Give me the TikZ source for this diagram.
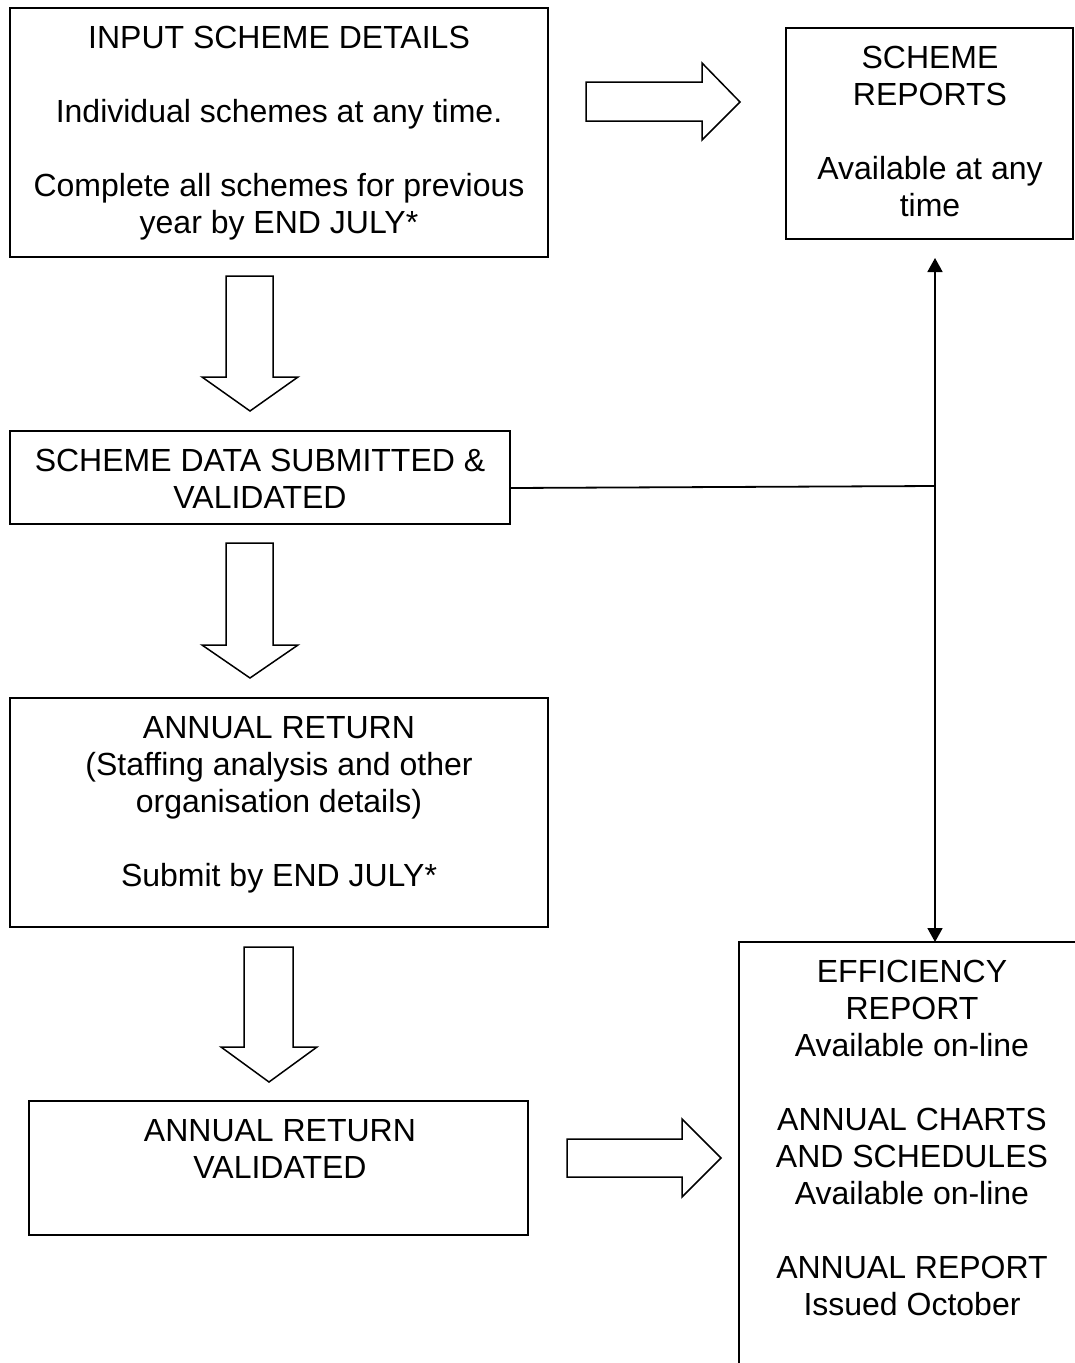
\documentclass[tikz,border=0pt]{standalone}
\usepackage{fontspec}
\setmainfont{Liberation Sans}
\usetikzlibrary{arrows.meta}
\begin{document}
\begin{tikzpicture}[x=1pt,y=-1pt,
  box/.style={draw,line width=1.8pt,rectangle,inner sep=0pt,outer sep=0pt},
  txt/.style={anchor=north,align=center,inner sep=0pt,font=\fontsize{32}{37}\selectfont},
  blockarrow/.style={draw,line width=1.5pt,line join=miter,fill=white},
  conn/.style={line width=1.8pt},
  tipboth/.style={{Triangle[length=14pt,width=15pt]}-{Triangle[length=14pt,width=15pt]}}
]
\useasboundingbox (0,0) rectangle (1075,1363);
\fill[white] (0,0) rectangle (1075,1363);

% boxes
\node[box,minimum width=538pt,minimum height=249pt] (b1) at (279,132.5) {};
\node[box,minimum width=287pt,minimum height=211pt] (b2) at (929.5,133.5) {};
\node[box,minimum width=500pt,minimum height=93pt] (b3) at (260,477.5) {};
\node[box,minimum width=538pt,minimum height=229pt] (b4) at (279,812.5) {};
\node[box,minimum width=499pt,minimum height=134pt] (b5) at (278.5,1168) {};
\coordinate (b6nw) at (739,942);
\coordinate (b6ne) at (1076,942);
\coordinate (b6sw) at (739,1364);
\draw[line width=1.8pt] (b6ne) -- (b6nw) -- (b6sw);

% texts
\node[txt] (t1) at (279,22.6) {\strut INPUT SCHEME DETAILS\\\strut\\Individual schemes at any time.\\\strut\\Complete all schemes for previous\\year by END JULY*};
\node[txt] (t2) at (930,42.6) {\strut SCHEME\\REPORTS\\\strut\\Available at any\\time};
\node[txt] (t3) at (260,445.6) {\strut SCHEME DATA SUBMITTED \&\\VALIDATED};
\node[txt] (t4) at (279,712.6) {\strut ANNUAL RETURN\\(Staffing analysis and other\\organisation details)\\\strut\\Submit by END JULY*};
\node[txt] (t5) at (280,1115.6) {\strut ANNUAL RETURN\\VALIDATED};
\node[txt] (t6) at (912,956.6) {\strut EFFICIENCY\\REPORT\\Available on-line\\\strut\\ANNUAL CHARTS\\AND SCHEDULES\\Available on-line\\\strut\\ANNUAL REPORT\\Issued October};

% block arrows
\draw[blockarrow] (586,82) -- (702,82) -- (702,63) -- (740,102) -- (702,140) -- (702,121) -- (586,121) -- cycle;
\draw[blockarrow] (226,276) -- (273,276) -- (273,377) -- (298,377) -- (250,411) -- (202,377) -- (226,377) -- cycle;
\draw[blockarrow] (226,543) -- (273,543) -- (273,645) -- (298,645) -- (250,678) -- (202,645) -- (226,645) -- cycle;
\draw[blockarrow] (244,947) -- (293,947) -- (293,1047) -- (317,1047) -- (269,1082) -- (221,1047) -- (244,1047) -- cycle;
\draw[blockarrow] (567,1139) -- (682,1139) -- (682,1119) -- (721,1158) -- (682,1197) -- (682,1177) -- (567,1177) -- cycle;

% connectors
\coordinate (vtop) at (935,258);
\coordinate (vbot) at (935,942);
\coordinate (join) at (935,486);
\draw[conn,tipboth] (vtop) -- (vbot);
\draw[conn] (b3.east |- 0,488) -- (join);
\end{tikzpicture}
\end{document}
